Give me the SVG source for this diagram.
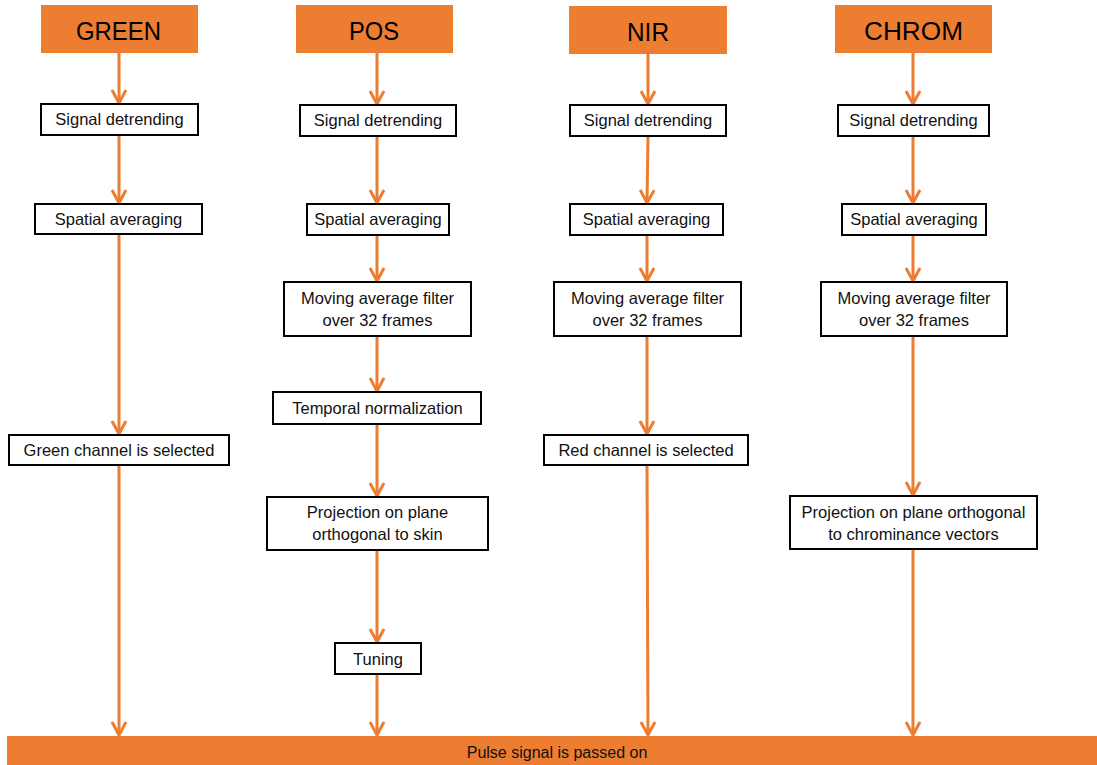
<svg xmlns="http://www.w3.org/2000/svg" width="1097" height="765" viewBox="0 0 1097 765">
<style>
.hdr{fill:#ED7D31}
.hdr-t{font-family:"Liberation Sans",Arial,sans-serif;font-size:26px;fill:#000;text-anchor:middle}
.box{fill:#fff;stroke:#000;stroke-width:2}
.t{font-family:"Liberation Sans",Arial,sans-serif;font-size:16.5px;fill:#111;text-anchor:middle}
.conn line{stroke:#ED7D31;stroke-width:3;marker-end:url(#arr)}
</style>
<defs>
<marker id="arr" markerUnits="userSpaceOnUse" viewBox="-16 -10 20 20" refX="0" refY="0" markerWidth="20" markerHeight="20" orient="auto" overflow="visible">
<path d="M-13,-7 L0,0 L-13,7" fill="none" stroke="#ED7D31" stroke-width="3"/>
</marker>
</defs>
<rect width="1097" height="765" fill="#fff"/>

<g class="conn">
<line x1="119" y1="53" x2="119" y2="103"/>
<line x1="119" y1="135" x2="119" y2="203"/>
<line x1="119" y1="234" x2="119" y2="434"/>
<line x1="119" y1="465" x2="119" y2="735"/>

<line x1="377" y1="53" x2="377" y2="104"/>
<line x1="377" y1="136" x2="377" y2="203"/>
<line x1="377" y1="235" x2="377" y2="281"/>
<line x1="377" y1="336" x2="377" y2="391"/>
<line x1="377" y1="424" x2="377" y2="496"/>
<line x1="377" y1="550" x2="377" y2="642"/>
<line x1="377" y1="674" x2="377" y2="735"/>

<line x1="648" y1="54" x2="648" y2="104"/>
<line x1="648" y1="136" x2="647" y2="203"/>
<line x1="647" y1="235" x2="647" y2="281"/>
<line x1="647" y1="336" x2="647" y2="434"/>
<line x1="647" y1="465" x2="648" y2="735"/>

<line x1="913" y1="53" x2="913" y2="104"/>
<line x1="913" y1="136" x2="913" y2="203"/>
<line x1="913" y1="235" x2="913" y2="281"/>
<line x1="913" y1="336" x2="913" y2="495"/>
<line x1="913" y1="549" x2="913" y2="735"/>
</g>

<g id="green-header"><rect class="hdr" x="41" y="5" width="157" height="48"/><text class="hdr-t" x="118.5" y="40" textLength="85" lengthAdjust="spacingAndGlyphs">GREEN</text></g>
<g id="pos-header"><rect class="hdr" x="296" y="5" width="157" height="48"/><text class="hdr-t" x="374" y="40" textLength="50" lengthAdjust="spacingAndGlyphs">POS</text></g>
<g id="nir-header"><rect class="hdr" x="569" y="6" width="158" height="48"/><text class="hdr-t" x="648" y="41" textLength="42" lengthAdjust="spacingAndGlyphs">NIR</text></g>
<g id="chrom-header"><rect class="hdr" x="835" y="5" width="157" height="48"/><text class="hdr-t" x="913.5" y="40" textLength="99" lengthAdjust="spacingAndGlyphs">CHROM</text></g>

<g id="green-detrend"><rect class="box" x="41" y="104" width="157" height="31"/><text class="t" x="119.5" y="125">Signal detrending</text></g>
<g id="green-spatial"><rect class="box" x="35" y="204" width="167" height="30"/><text class="t" x="118.5" y="225">Spatial averaging</text></g>
<g id="green-select"><rect class="box" x="9" y="435" width="220" height="30"/><text class="t" x="119" y="456">Green channel is selected</text></g>

<g id="pos-detrend"><rect class="box" x="300" y="105" width="156" height="31"/><text class="t" x="378" y="126">Signal detrending</text></g>
<g id="pos-spatial"><rect class="box" x="307" y="204" width="142" height="31"/><text class="t" x="378" y="225">Spatial averaging</text></g>
<g id="pos-moving"><rect class="box" x="284" y="282" width="187" height="54"/><text class="t" x="377.5" y="304">Moving average filter</text><text class="t" x="377.5" y="326">over 32 frames</text></g>
<g id="pos-temporal"><rect class="box" x="273" y="392" width="208" height="32"/><text class="t" x="377.5" y="414">Temporal normalization</text></g>
<g id="pos-projection"><rect class="box" x="267" y="497" width="221" height="53"/><text class="t" x="377.5" y="518">Projection on plane</text><text class="t" x="377.5" y="540">orthogonal to skin</text></g>
<g id="pos-tuning"><rect class="box" x="335" y="643" width="86" height="31"/><text class="t" x="378" y="665">Tuning</text></g>

<g id="nir-detrend"><rect class="box" x="570" y="105" width="156" height="31"/><text class="t" x="648" y="126">Signal detrending</text></g>
<g id="nir-spatial"><rect class="box" x="570" y="204" width="153" height="31"/><text class="t" x="646.5" y="225">Spatial averaging</text></g>
<g id="nir-moving"><rect class="box" x="554" y="282" width="187" height="54"/><text class="t" x="647.5" y="304">Moving average filter</text><text class="t" x="647.5" y="326">over 32 frames</text></g>
<g id="nir-select"><rect class="box" x="544" y="435" width="204" height="30"/><text class="t" x="646" y="456">Red channel is selected</text></g>

<g id="chrom-detrend"><rect class="box" x="838" y="105" width="151" height="31"/><text class="t" x="913.5" y="126">Signal detrending</text></g>
<g id="chrom-spatial"><rect class="box" x="842" y="204" width="144" height="31"/><text class="t" x="914" y="225">Spatial averaging</text></g>
<g id="chrom-moving"><rect class="box" x="821" y="282" width="186" height="54"/><text class="t" x="914" y="304">Moving average filter</text><text class="t" x="914" y="326">over 32 frames</text></g>
<g id="chrom-projection"><rect class="box" x="790" y="496" width="247" height="53"/><text class="t" x="913.5" y="518">Projection on plane orthogonal</text><text class="t" x="913.5" y="540">to chrominance vectors</text></g>

<g id="pulse-bar"><rect class="hdr" x="7" y="736" width="1090" height="29"/><text class="t" x="557" y="758" style="font-size:16px">Pulse signal is passed on</text></g>
</svg>
